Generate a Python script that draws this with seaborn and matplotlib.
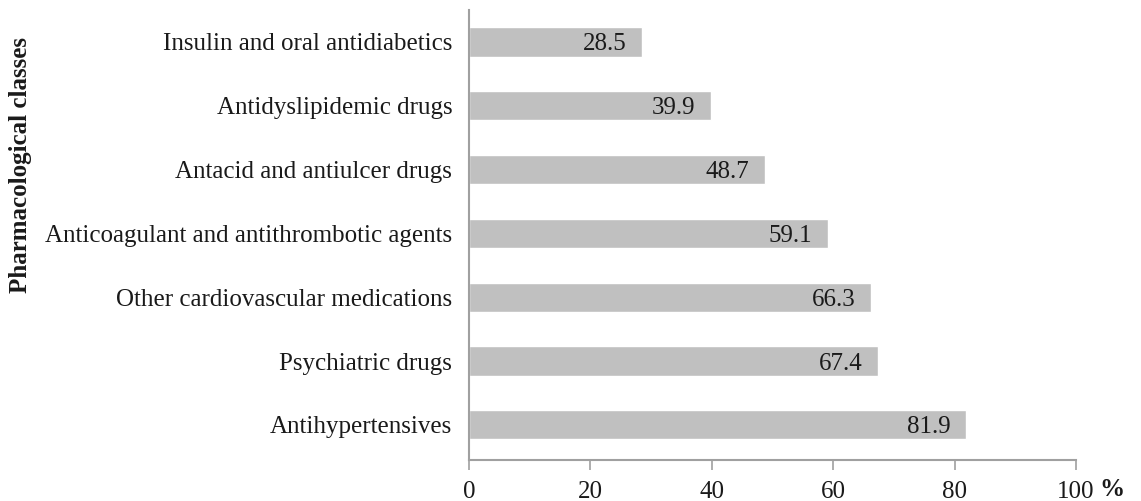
import matplotlib
matplotlib.use("Agg")
import matplotlib.pyplot as plt
import seaborn as sns
import pandas as pd

categories = ["Insulin and oral antidiabetics", "Antidyslipidemic drugs", "Antacid and antiulcer drugs",
              "Anticoagulant and antithrombotic agents", "Other cardiovascular medications",
              "Psychiatric drugs", "Antihypertensives"]
values = [28.5, 39.9, 48.7, 59.1, 66.3, 67.4, 81.9]
xticks = [0, 20, 40, 60, 80, 100]

sns.set_theme(style="white")
plt.rcParams['font.family'] = ['Liberation Serif', 'DejaVu Serif']

df = pd.DataFrame({"cls": categories, "pct": values})
fig = plt.figure(figsize=(11.41, 5.01), dpi=100)
ax = fig.add_axes([0.411, 0.082, 0.532, 0.898])
sns.barplot(data=df, y="cls", x="pct", color="#c0c0c0", width=0.46, ax=ax, saturation=1)

for i, v in enumerate(values):
    ax.text(v - 2.6, i, f"{v}", ha="right", va="center_baseline", fontsize=18, color="#1a1a1a")

ax.set_xlim(0, 100)
ax.set_ylim(6.55, -0.5)
ax.set_xticks(xticks)
ax.set_xticklabels([str(t) for t in xticks], fontsize=18, color="#1a1a1a")
ax.tick_params(axis="y", labelsize=18, length=0, pad=12, labelcolor="#1a1a1a")
ax.tick_params(axis="x", length=7, width=1.2, color="#a0a0a0", pad=8, bottom=True)
for s in ["top", "right"]:
    ax.spines[s].set_visible(False)
for s in ["left", "bottom"]:
    ax.spines[s].set_color("#a0a0a0")
    ax.spines[s].set_linewidth(1.5)
ax.set_xlabel("")
ax.set_ylabel("Pharmacological classes", fontsize=18, fontweight="bold", color="#1a1a1a")
ax.yaxis.set_label_coords(-0.72, 0.655)
fig.text(1112 / 1141, 1 - 490 / 501, "%", fontsize=18, fontweight="bold", ha="center", va="center", color="#1a1a1a")

fig.savefig("out.png", dpi=100)
